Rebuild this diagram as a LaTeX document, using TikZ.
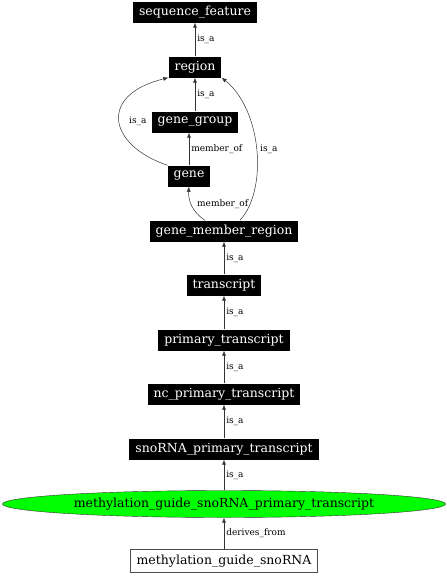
\documentclass[tikz,border=0pt]{standalone}
\usepackage{fontspec}
\setmainfont{DejaVu Serif}
\usetikzlibrary{arrows.meta,shapes.geometric}

\begin{document}
\begin{tikzpicture}[x=1pt,y=-1pt,
    term/.style={fill=black,text=white,inner xsep=6pt,inner ysep=0pt,
        minimum height=21pt,font=\fontsize{12.5}{14}\selectfont},
    leaf/.style={draw=black!70,fill=white,inner xsep=6pt,inner ysep=0pt,
        minimum height=23pt,font=\fontsize{12.5}{14}\selectfont},
    focus/.style={ellipse,draw=black!80,fill=green,inner sep=0pt,
        minimum width=443pt,minimum height=27pt,font=\fontsize{12.5}{14}\selectfont},
    edge/.style={-{Latex[length=5pt,width=4pt]},black!80,line width=.5pt},
    rel/.style={font=\fontsize{9}{10}\selectfont,text=black,anchor=west,inner sep=2pt},
    ]
    \useasboundingbox (0,0) rectangle (447,576);

    % Upper part of the hierarchy
    \node[term] (seqf) at (195,12) {sequence\_feature};
    \node[term] (region) at (195,67) {region};
    \node[term] (ggroup) at (195,122) {gene\_group};
    \node[term] (gene) at (189,176) {gene};
    \node[term] (gmr) at (224,231) {gene\_member\_region};

    % Transcript chain
    \node[term] (tr) at (224,285) {transcript};
    \node[term] (ptr) at (224,340) {primary\_transcript};
    \node[term] (nctr) at (224,394) {nc\_primary\_transcript};
    \node[term] (snotr) at (224,449) {snoRNA\_primary\_transcript};
    \node[focus] (mgtr) at (224,504) {methylation\_guide\_snoRNA\_primary\_transcript};
    \node[leaf] (mg) at (224,561) {methylation\_guide\_snoRNA};

    % Straight relations
    \draw[edge] (region) -- node[rel]{is\_a} (seqf);
    \draw[edge] (ggroup) -- node[rel]{is\_a} (region);
    \draw[edge] (gene) -- node[rel]{member\_of} (gene.north |- ggroup.south);
    \draw[edge] (tr) -- node[rel]{is\_a} (gmr);
    \draw[edge] (ptr) -- node[rel]{is\_a} (tr);
    \draw[edge] (nctr) -- node[rel]{is\_a} (ptr);
    \draw[edge] (snotr) -- node[rel]{is\_a} (nctr);
    \draw[edge] (mgtr) -- node[rel]{is\_a} (snotr);
    \draw[edge] (mg) -- node[rel]{derives\_from} (mgtr);

    % Curved relations
    \draw[edge] (gene.north west) .. controls (108,145) and (98,95) .. (region.south west);
    \node[rel] (lgene) at (127,121) {is\_a};
    \draw[edge] (gmr.north -| 205,0) .. controls (192,212) and (188,200) .. (gene.south);
    \node[rel] (lgmr) at (195,204) {member\_of};
    \draw[edge] (gmr.north -| 240,0) .. controls (268,190) and (262,110) .. (region.south east);
    \node[rel] (lreg) at (258,149) {is\_a};
\end{tikzpicture}
\end{document}
